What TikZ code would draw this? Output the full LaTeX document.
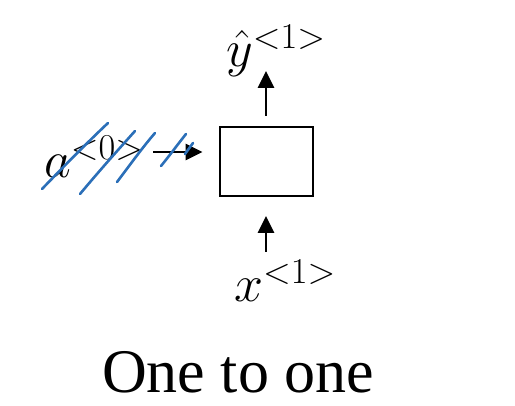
\RequirePackage{fix-cm}
\documentclass[tikz,border=0pt]{standalone}
\usepackage{fontspec}
\setmainfont{Liberation Serif}
\usetikzlibrary{arrows.meta}
\definecolor{penBlue}{HTML}{2B6FB8}
\tikzset{
 rnn/.style={line cap=butt,line join=miter},
 cellbox/.style={draw,line width=2pt,minimum width=93pt,minimum height=69pt,inner sep=0pt},
 flow/.style={draw,line width=2.8pt,-{Triangle[length=17pt,width=16pt]}},
 lbl/.style={font=\fontsize{52}{60}\selectfont,inner sep=0pt,anchor=base west},
 strike/.style={draw=penBlue,line width=2.6pt,line cap=round},
 caption/.style={font=\fontsize{62}{70}\selectfont,inner sep=0pt,anchor=base west}
}

\begin{document}
\begin{tikzpicture}[rnn,x=1pt,y=-1pt]
 \useasboundingbox (0,0) rectangle (515,406);
 % one cell
 \node[cellbox] (cell) at (266,161.5) {};
 \coordinate (outtip) at (266,71);
 \coordinate (intail) at (266,252);
 \coordinate (atail) at (153,152);
 \draw[flow,shorten <=10pt] (cell.north) -- (outtip);
 \draw[flow,shorten >=19pt] (intail) -- (cell.south);
 \draw[flow,shorten >=16pt] (atail) -- (cell.west |- atail);
 % labels
 \node[lbl] (yhat) at (226,67) {$\hat{y}^{<1>}$};
 \node[lbl] (xin) at (234,302) {$x^{<1>}$};
 \node[lbl] (azero) at (44,178) {$a^{<0>}$};
 \node[caption] (title) at (102,393) {One to one};
 % crossed out by hand
 \draw[strike] (42,189) .. controls (70,160) and (90,140) .. (108,123);
 \draw[strike] (80,194) .. controls (100,170) and (118,150) .. (135,131);
 \draw[strike] (117,182) .. controls (130,165) and (142,148) .. (155,133);
 \draw[strike] (161,166) .. controls (170,155) and (178,144) .. (186,134);
 \draw[strike] (185,154) -- (193,143);
\end{tikzpicture}
\end{document}
